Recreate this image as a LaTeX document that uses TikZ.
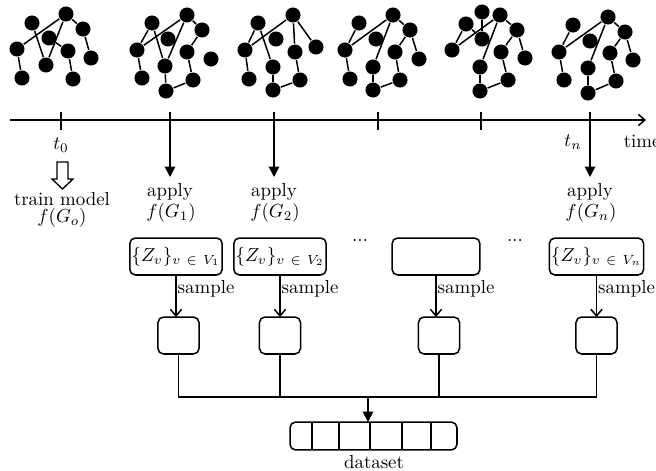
\documentclass[tikz,border=0pt]{standalone}
\usetikzlibrary{arrows.meta}
\begin{document}
\begin{tikzpicture}[x=0.53pt,y=-0.53pt, line width=0.8pt,
 gn/.style={circle,fill=black,inner sep=0pt,minimum size=8pt},
 zbox/.style={draw,rounded corners=3pt,minimum width=46.6pt,minimum height=19.6pt,inner sep=1pt,outer sep=0pt},
 sbox/.style={draw,rounded corners=3pt,minimum width=21.8pt,minimum height=19.6pt,inner sep=0pt,outer sep=0pt},
 dbox/.style={draw,rounded corners=3pt,minimum width=88.5pt,minimum height=14.8pt,inner sep=0pt,outer sep=0pt},
 solidarrow/.style={-{Triangle[length=5.5pt,width=5.5pt]}},
 openarrow/.style={-{Straight Barb[length=3.5pt,width=6pt]}},
 lbl/.style={inner sep=0pt}
]
\useasboundingbox (0,0) rectangle (656,470);

% ---------- graphs ----------
% graph 1
\foreach \n/\x/\y in {a/66/14,b/32/23,c/83/29,d/49/38,e/17/49,f/68/51,g/46/65,h/91/58,i/22/78,j/73/79}
  \node[gn] (g1\n) at (\x,\y) {};
\foreach \p/\q in {e/a,b/g,g/a,a/c,c/h,d/f,f/j,e/i}
  \draw (g1\p) -- (g1\q);
% graph 2
\foreach \n/\x/\y in {a/187/15,b/152/23,c/202/30,d/168/39,e/137/50,f/187/52,g/165/66,h/211/59,i/142/78,j/193/80,k/166/91}
  \node[gn] (g2\n) at (\x,\y) {};
\foreach \p/\q in {e/a,e/b,b/g,g/a,a/c,c/f,f/j,j/k,k/g,e/i}
  \draw (g2\p) -- (g2\q);
% graph 3
\foreach \n/\x/\y in {a/293/15,b/258/23,d/276/39,e/245/50,f/295/52,h/316/47,g/273/67,i/249/79,j/300/80,k/273/90}
  \node[gn] (g3\n) at (\x,\y) {};
\foreach \p/\q in {e/a,e/b,b/g,a/f,a/h,f/j,j/k,k/g,e/i}
  \draw (g3\p) -- (g3\q);
% graph 4
\foreach \n/\x/\y in {a/393/15,b/359/23,c/410/30,d/376/39,e/345/50,f/395/52,h/419/59,g/373/67,i/350/79,j/400/80,k/373/90}
  \node[gn] (g4\n) at (\x,\y) {};
\foreach \p/\q in {e/a,e/b,g/a,a/c,c/f,c/h,f/j,j/k,k/g,e/i}
  \draw (g4\p) -- (g4\q);
% graph 5
\foreach \n/\x/\y in {t/482/12,b/466/24,a/500/15,c/517/30,d/482/39,e/452/50,f/501/52,h/525/58,g/480/67,j/508/80,k/480/91}
  \node[gn] (g5\n) at (\x,\y) {};
\foreach \p/\q in {t/d,e/b,e/a,b/d,a/g,a/c,c/f,c/h,f/j,j/k,k/g}
  \draw (g5\p) -- (g5\q);
% graph 6
\foreach \n/\x/\y in {a/608/17,b/573/25,c/625/32,d/590/41,e/559/52,f/610/53,h/633/60,g/588/68,i/564/80,j/616/81,k/588/93}
  \node[gn] (g6\n) at (\x,\y) {};
\foreach \p/\q in {e/a,e/b,g/a,a/c,c/f,c/h,f/j,j/k,k/g,e/i}
  \draw (g6\p) -- (g6\q);

% ---------- timeline ----------
\coordinate (ts) at (10,120);
\coordinate (te) at (646,120);
\draw[openarrow] (ts) -- (te);
\node[lbl,anchor=west] (time) at (623,141) {time};
\foreach \x in {61,378,481} \draw (\x,112) -- (\x,130);
\node[lbl] (t0) at (61,145) {$t_0$};
\node[lbl] (tn) at (573,142) {$t_n$};

% hollow arrow
\draw[line width=0.7pt] (57,162) -- (68,162) -- (68,179) -- (73,179) -- (62.5,189) -- (52,179) -- (57,179) -- cycle;
\node[lbl] (train) at (62,199) {train model};
\node[lbl] (fg0) at (62,218) {$f(G_o)$};

% apply arrows
\foreach \i/\x in {1/170,2/274,n/590}{
  \coordinate (top\i) at (\x,112);
  \coordinate (bot\i) at (\x,177);
  \draw[solidarrow] (top\i) -- (bot\i);
  \node[lbl] (ap\i) at (\x,192) {apply};
  \node[lbl] (fg\i) at (\x+1,213) {$f(G_{\i})$};
}

% Z boxes
\node[zbox] (z1) at (176,256.5) {$\{Z_v\}_{v\ \in\ V_1}$};
\node[zbox] (z2) at (280,256.5) {$\{Z_v\}_{v\ \in\ V_2}$};
\node[zbox] (z3) at (436,256.5) {};
\node[zbox] (z4) at (596.5,256.5) {$\{Z_v\}_{v\ \in\ V_n}$};
\node[lbl] (dots1) at (360,240) {...};
\node[lbl] (dots2) at (515,240) {...};

% small boxes
\node[sbox] (s1) at (178.5,335.5) {};
\node[sbox] (s2) at (280,335.5) {};
\node[sbox] (s3) at (439,335.5) {};
\node[sbox] (s4) at (596.5,335.5) {};

\foreach \i in {1,2,3,4}{
  \draw[openarrow] (z\i.south) -- (z\i.south |- s\i.north);
  \node[lbl,anchor=west] (smp\i) at ([xshift=0.5pt,yshift=-7.5pt]z\i.south) {sample};
}

% bus and dataset
\coordinate (bus) at (368,397);
\draw (s1.south) |- (bus) -| (s4.south);
\draw (s2.south) -- (s2.south |- bus);
\draw (s3.south) -- (s3.south |- bus);
\node[dbox] (ds) at (373.5,436) {};
\draw[solidarrow] (bus) -- (bus |- ds.north);
\foreach \dx in {22,49,80,112,141}
  \draw (ds.north west) ++(\dx,0) -- ++(0,28);
\node[lbl] (dsl) at (374,462) {dataset};
\end{tikzpicture}
\end{document}
